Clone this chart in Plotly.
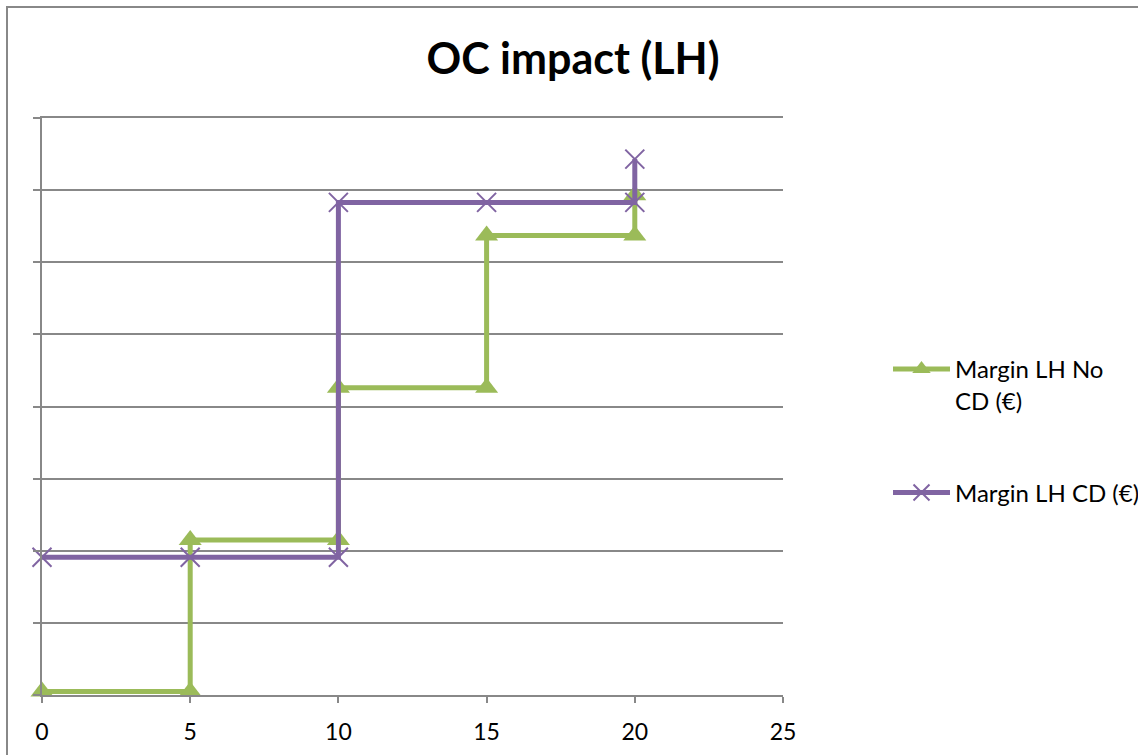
import plotly.graph_objects as go

# Data (y axis unlabeled; units = gridline steps)
x_no_cd = [0, 5, 5, 10, 10, 15, 15, 20, 20]
y_no_cd = [0.05, 0.05, 2.15, 2.15, 4.26, 4.26, 6.37, 6.37, 6.93]

x_cd = [0, 5, 10, 10, 15, 20, 20]
y_cd = [1.91, 1.91, 1.91, 6.83, 6.83, 6.83, 7.43]

name_no_cd = "Margin LH No<br>CD (€)"
name_cd = "Margin LH CD (€)"
title_text = "OC impact (LH)"

GREEN = "#9BBB59"
PURPLE = "#8064A2"
GRID = "#888888"
FONT = "Lato"

W, H = 1138, 755
L, R, T, B = 42, 355, 118, 60

fig = go.Figure()
fig.add_trace(go.Scatter(
    x=x_no_cd, y=y_no_cd, mode="lines+markers", name=name_no_cd,
    legendgroup="g1",
    line=dict(color=GREEN, width=5),
    marker=dict(symbol="triangle-up", size=20, color=GREEN),
    cliponaxis=False,
))
fig.add_trace(go.Scatter(
    x=x_cd, y=y_cd, mode="lines+markers", name=name_cd,
    legendgroup="g2",
    line=dict(color=PURPLE, width=5),
    marker=dict(symbol="x-thin", size=19, color=PURPLE,
                line=dict(color=PURPLE, width=2)),
    cliponaxis=False,
))

pw = W - L - R
ph = H - T - B

fig.update_layout(
    width=W, height=H,
    margin=dict(l=L, r=R, t=T, b=B, autoexpand=False),
    paper_bgcolor="white", plot_bgcolor="white",
    font=dict(family=FONT, color="black"),
    title=dict(text=title_text, x=573 / W, xanchor="center",
               y=1 - 59 / H, yanchor="middle", yref="container", xref="container",
               font=dict(family=FONT, size=43, color="black", weight="bold")),
    xaxis=dict(range=[0, 25], dtick=5, tick0=0, showgrid=False, zeroline=False,
               showline=True, mirror=True, linecolor=GRID, linewidth=1.8,
               ticks="outside", ticklen=6, tickcolor=GRID, tickwidth=1.8,
               ticklabelstandoff=9,
               tickfont=dict(family=FONT, size=23, color="black")),
    yaxis=dict(range=[0, 8], dtick=1, tick0=0, showgrid=True, gridcolor=GRID,
               gridwidth=1.8, zeroline=False, showline=True, linecolor=GRID,
               linewidth=1.8, ticks="outside", ticklen=7, tickcolor=GRID,
               tickwidth=1.8, showticklabels=False),
    legend=dict(xref="container", yref="container", x=888 / W, y=1 - 347 / H,
                xanchor="left", yanchor="top", valign="top",
                traceorder="grouped", tracegroupgap=58, itemwidth=57,
                font=dict(family=FONT, size=24, color="black"),
                bgcolor="rgba(0,0,0,0)"),
    shapes=[dict(type="rect", xref="paper", yref="paper",
                 x0=(7 - L) / pw, x1=(W + 10 - L) / pw,
                 y0=-(H + 10 - (H - B)) / ph, y1=((H - B) - 7) / ph,
                 line=dict(color="#888888", width=2), fillcolor="rgba(0,0,0,0)",
                 layer="below")],
)

fig.write_html("out.html", config={"displayModeBar": False},
               post_script="document.body.style.margin='0';")
